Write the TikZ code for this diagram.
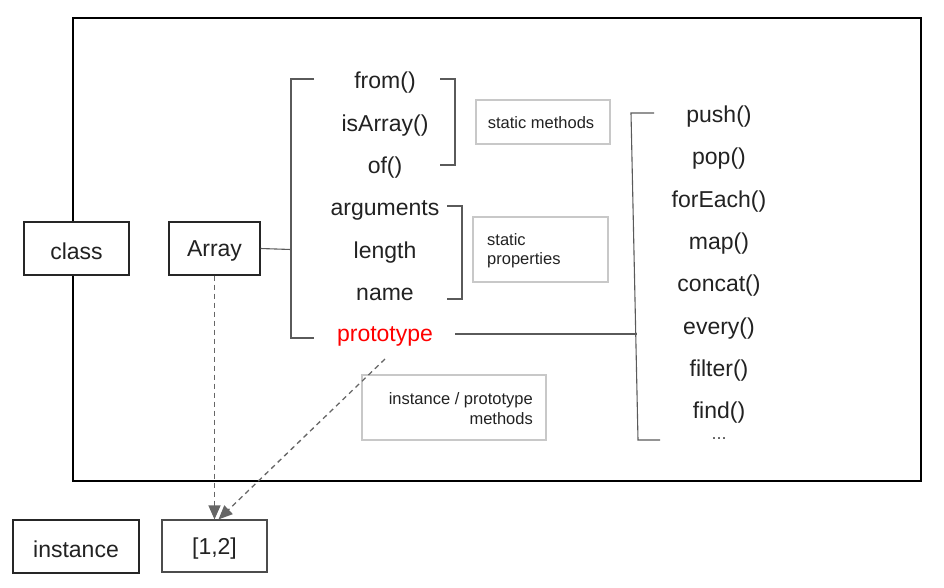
\documentclass[tikz,border=0pt]{standalone}
\usepackage{fontspec}
\setmainfont{Liberation Sans}
\usetikzlibrary{arrows.meta}
\definecolor{brk}{HTML}{5A5A5A}
\definecolor{lbox}{HTML}{C8C8C8}
\definecolor{txt}{HTML}{222222}
\definecolor{dash}{HTML}{666666}
\begin{document}
\begin{tikzpicture}[x=1pt,y=-1pt,
  big/.style={font=\fontsize{23}{26}\selectfont, text=txt, inner sep=0pt, yshift=-2.5pt},
  small/.style={font=\fontsize{16.5}{19.5}\selectfont, text=txt},
  mainbox/.style={draw=black!85, line width=1.2pt, fill=white, inner sep=0pt},
  notebox/.style={draw=lbox, line width=1.2pt, fill=white, inner sep=0pt},
  bracket/.style={draw=brk, line width=1.1pt},
  darrow/.style={draw=dash, line width=1.3pt, dashed, dash pattern=on 5pt off 4pt, -{Triangle[length=14pt,width=12pt]}}]
\useasboundingbox (0,0) rectangle (944,587);
% outer frame
\draw[black, line width=1.1pt] (73,18) rectangle (921,481);
% left boxes
\node[mainbox, minimum width=105pt, minimum height=53pt] (class) at (76.5,248.5) {};
\node[big] at (class.center) {class};
\node[mainbox, minimum width=91pt, minimum height=53pt] (array) at (214.5,248.5) {};
\node[big] at (array.center) {Array};
\node[mainbox, minimum width=126pt, minimum height=53pt] (inst) at (76,546.5) {};
\node[big] at (inst.center) {instance};
\node[mainbox, draw=black!70, minimum width=105pt, minimum height=52pt] (arr12) at (214.5,546) {};
\node[big] at (arr12.center) {[1,2]};
% static members
\node[big] (from) at (385,80) {from()};
\node[big] (isarr) at (385,123) {isArray()};
\node[big] (of) at (385,165) {of()};
\node[big] (args) at (385,208) {arguments};
\node[big] (len) at (385,250) {length};
\node[big] (nm) at (385,292) {name};
\node[big, text=red] (proto) at (385,334) {prototype};
% big bracket
\coordinate (bt) at (314,79);
\coordinate (bb) at (314,338);
\draw[bracket] (bt) -- (291,79) -- (291,338) -- (bb);
\draw[bracket] (array.east) -- (291,249.5);
% static methods bracket
\draw[bracket] (440,79) -- (455,79) -- (455,165) -- (440,165);
\draw[bracket] (447,206) -- (462,206) -- (462,299) -- (447,299);
% note boxes
\node[notebox, minimum width=134pt, minimum height=44pt] (sm) at (543,122) {};
\node[small, anchor=center] at (541,123) {static methods};
\node[notebox, minimum width=135pt, minimum height=65pt] (sp) at (540.5,249.5) {};
\node[small, anchor=west, align=left, inner sep=0pt] at (487,250.5) {static\\properties};
\node[notebox, minimum width=184pt, minimum height=65pt] (ip) at (454,407.5) {};
\node[small, anchor=east, align=right, inner sep=0pt] at (533,408.5) {instance / prototype\\methods};
% prototype methods
\node[big] (push) at (719,114) {push()};
\node[big] (pop) at (719,156) {pop()};
\node[big] (fe) at (719,199) {forEach()};
\node[big] (map) at (719,241) {map()};
\node[big] (cc) at (719,283) {concat()};
\node[big] (ev) at (719,326) {every()};
\node[big] (fl) at (719,368) {filter()};
\node[big] (fd) at (719,410) {find()};
\node[big, font=\fontsize{18}{22}\selectfont, text=black!70] (dots) at (719,436) {...};
\draw[bracket] (654,113) -- (631,113) -- (638,440) -- (660,440);
\coordinate (pe) at (455,334);
\draw[bracket] (pe) -- (636.7,334);
% dashed arrows
\coordinate (pstart) at (385,359);
\draw[darrow] (array.south) -- (arr12.north);
\draw[darrow] (pstart) -- ([xshift=4pt]arr12.north);
\end{tikzpicture}
\end{document}
